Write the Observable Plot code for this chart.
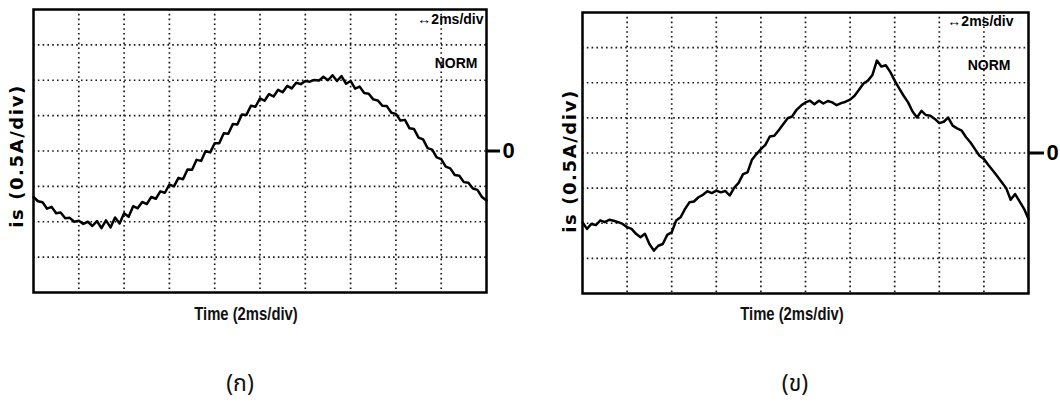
<!DOCTYPE html>
<html><head><meta charset="utf-8">
<script src="https://cdn.jsdelivr.net/npm/d3@7"></script>
<script src="https://cdn.jsdelivr.net/npm/@observablehq/plot@0.6"></script>
<style>
body{margin:0;background:#fff;}
#wrap{position:relative;width:1060px;height:409px;overflow:hidden;background:#fff;}
.panel{position:absolute;top:0;}
.xl{position:absolute;font-family:"Liberation Sans",Arial,sans-serif;font-weight:bold;font-size:19px;transform:translate(-50%,-50%) scaleX(0.78);white-space:nowrap;color:#111;}
.cap{position:absolute;font-family:"Noto Sans Thai","Loma","Garuda","Noto Sans","DejaVu Sans",sans-serif;font-size:23px;transform:translate(-50%,-50%);white-space:nowrap;color:#111;}
.ylab{letter-spacing:1.6px;}
</style></head>
<body><div id="wrap"></div>
<script>
// grid divisions (10 x 8 divisions, zero at centre)
const vDivs = [1,2,3,4,5,6,7,8,9];
const hDivs = [-3,-2,-1,0,1,2,3];
const zeroTick = [0];
const sampleStep = 0.1; // divisions per sample

const scaleText = "\u21942ms/div";
const modeText = "NORM";
const yLabel = "is (0.5A/div)";
const xLabel = "Time (2ms/div)";
const captions = ["(\u0E01)", "(\u0E02)"];

// panel (ก): current trace, in divisions, sampled every 0.1 div
const traceA = [
 -1.30,-1.42,-1.45,-1.63,-1.58,-1.76,-1.74,-1.90,-1.89,-2.00,
 -1.97,-2.06,-2.00,-2.12,-1.98,-2.18,-1.96,-2.16,-1.88,-2.05,
 -1.76,-1.86,-1.56,-1.62,-1.44,-1.50,-1.30,-1.35,-1.14,-1.18,
 -0.95,-1.00,-0.76,-0.80,-0.52,-0.53,-0.25,-0.28,0.00,-0.04,
 0.22,0.22,0.50,0.49,0.76,0.75,1.03,1.02,1.28,1.25,
 1.49,1.42,1.61,1.54,1.73,1.66,1.84,1.77,1.93,1.89,
 1.98,1.96,2.01,1.99,2.10,2.00,2.14,1.98,2.12,1.90,
 1.98,1.76,1.82,1.64,1.62,1.46,1.43,1.28,1.27,1.08,
 1.05,0.86,0.88,0.64,0.62,0.38,0.33,0.08,0.04,-0.18,
 -0.23,-0.44,-0.49,-0.68,-0.70,-0.88,-0.90,-1.06,-1.10,-1.30,
 -1.40
];
// panel (ข)
const traceB = [
 -1.97,-2.16,-2.02,-2.05,-1.92,-1.97,-1.90,-1.93,-1.97,-2.02,
 -2.11,-2.16,-2.30,-2.40,-2.30,-2.59,-2.78,-2.64,-2.59,-2.33,
 -2.26,-1.92,-1.83,-1.59,-1.40,-1.38,-1.26,-1.19,-1.09,-1.14,
 -1.07,-1.12,-1.08,-1.21,-0.99,-0.85,-0.60,-0.55,-0.19,-0.03,
 0.11,0.23,0.47,0.49,0.65,0.82,0.99,1.04,1.23,1.35,
 1.44,1.49,1.39,1.49,1.41,1.48,1.44,1.36,1.42,1.46,
 1.52,1.63,1.80,1.98,2.06,2.22,2.63,2.46,2.50,2.31,
 2.06,1.84,1.63,1.44,1.18,1.01,1.20,1.08,1.06,0.97,
 0.85,0.89,1.01,0.78,0.70,0.64,0.45,0.30,0.11,-0.08,
 -0.17,-0.34,-0.50,-0.66,-0.83,-1.00,-1.33,-1.17,-1.38,-1.59,
 -1.88
];

const FONT_N = "Liberation Sans, Arial, sans-serif";

function scope(trace, o) {
  return Plot.plot({
    width: o.width, height: o.height,
    marginLeft: o.ml, marginRight: o.mr, marginTop: o.mt, marginBottom: o.mb,
    style: {background: "transparent", overflow: "visible"},
    x: {domain: [0, 10], axis: null},
    y: {domain: [-4, 4], axis: null},
    marks: [
      Plot.ruleX(vDivs, {stroke: "#1a1a1a", strokeWidth: 1.7, strokeDasharray: "1.6,3.2"}),
      Plot.ruleY(hDivs, {stroke: "#1a1a1a", strokeWidth: 1.7, strokeDasharray: "1.6,3.2"}),
      Plot.line(trace, {x: (d, i) => i * sampleStep, y: d => d, stroke: "#000", strokeWidth: 2.5, strokeLinejoin: "round"}),
      Plot.frame({stroke: "#000", strokeWidth: 2.5}),
      Plot.axisY(zeroTick, {anchor: "right", tickSize: o.tickSize, tickPadding: 3, strokeWidth: 3, label: null,
        tickFormat: d => String(d), fontSize: 22, fontWeight: "bold", fontFamily: FONT_N, fill: "#000"}),
      Plot.text([scaleText], {frameAnchor: "top-right", textAnchor: "end", lineAnchor: "top", dx: o.sdx, dy: o.sdy,
        fontSize: 14, fontWeight: "bold", fontFamily: FONT_N, fill: "#000"}),
      Plot.text([modeText], {frameAnchor: "top-right", textAnchor: "end", lineAnchor: "top", dx: o.ndx, dy: o.ndy,
        fontSize: 14, fontWeight: "bold", fontFamily: FONT_N, fill: "#000"}),
      Plot.text([yLabel], {frameAnchor: "left", textAnchor: "middle", lineAnchor: "middle", rotate: -90, dx: o.ldx, dy: o.ldy,
        fontSize: 18, fontWeight: "bold", fontFamily: "DejaVu Sans, sans-serif", fill: "#000", className: "ylab"})
    ]
  });
}

const wrap = document.getElementById("wrap");
const a = scope(traceA, {width: 540, height: 300, ml: 33, mr: 54, mt: 9, mb: 8, tickSize: 13,
  sdx: -3, sdy: 5, ndx: -9, ndy: 49, ldx: -16, ldy: 5});
a.classList.add("panel"); a.style.left = "0px";
const b = scope(traceB, {width: 520, height: 300, ml: 42, mr: 32, mt: 12, mb: 7, tickSize: 15,
  sdx: -15, sdy: 4, ndx: -18, ndy: 48, ldx: -12, ldy: 8});
b.classList.add("panel"); b.style.left = "540px";
wrap.appendChild(a); wrap.appendChild(b);
d3.select(wrap).selectAll("g.ylab text, .ylab text").style("letter-spacing", "1.6px");

function addDiv(cls, text, x, y) {
  const d = document.createElement("div");
  d.className = cls; d.textContent = text;
  d.style.left = x + "px"; d.style.top = y + "px";
  wrap.appendChild(d);
}
addDiv("xl", xLabel, 246, 314);
addDiv("xl", xLabel, 792, 314);
addDiv("cap", captions[0], 240, 384);
addDiv("cap", captions[1], 795, 384);
</script>
</body></html>
